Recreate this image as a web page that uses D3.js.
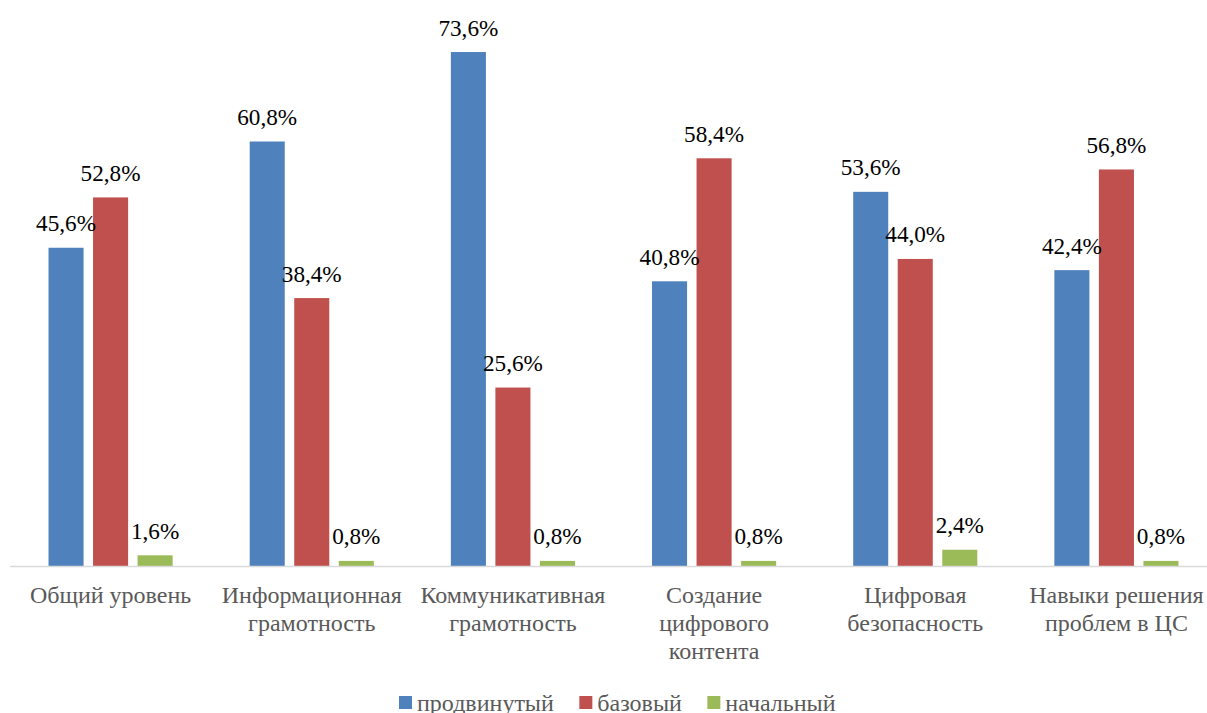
<!DOCTYPE html>
<html>
<head>
<meta charset="utf-8">
<script src="https://cdn.jsdelivr.net/npm/d3@7"></script>
<style>
  body { margin: 0; background: #fff; }
  svg { display: block; }
</style>
</head>
<body>
<div id="chart-container"></div>
<script>
const categories = ["Общий уровень", "Информационная грамотность", "Коммуникативная грамотность",
  "Создание цифрового контента", "Цифровая безопасность", "Навыки решения проблем в ЦС"];
const tickLabels = [
  ["Общий уровень"],
  ["Информационная", "грамотность"],
  ["Коммуникативная", "грамотность"],
  ["Создание", "цифрового", "контента"],
  ["Цифровая", "безопасность"],
  ["Навыки решения", "проблем в ЦС"]
];
const seriesNames = ["продвинутый", "базовый", "начальный"];
const advanced = [45.6, 60.8, 73.6, 40.8, 53.6, 42.4];
const basic = [52.8, 38.4, 25.6, 58.4, 44.0, 56.8];
const initial = [1.6, 0.8, 0.8, 0.8, 2.4, 0.8];
const colors = ["#4F81BD", "#C0504D", "#9BBB59"];

const width = 1207, height = 713;
const baseY = 566.5;
const serif = "'Liberation Serif', 'Times New Roman', serif";

const svg = d3.select("#chart-container").append("svg")
  .attr("width", width)
  .attr("height", height);

const x0 = d3.scaleBand().domain(categories).range([10, 1217]).paddingInner(0.383).paddingOuter(0.1915);
const x1 = d3.scaleBand().domain(seriesNames).range([0, x0.bandwidth()]).paddingInner(0.213);
const y = d3.scaleLinear().domain([0, 80]).range([baseY, 7.3]);

const seriesValues = [advanced, basic, initial];
const fmt = v => d3.format(".1f")(v).replace(".", ",") + "%";

// bars
const groups = svg.append("g").selectAll("g")
  .data(categories)
  .join("g")
  .attr("transform", d => `translate(${x0(d)},0)`);

groups.selectAll("rect")
  .data((d, i) => seriesNames.map((s, j) => ({ s, j, v: seriesValues[j][i] })))
  .join("rect")
  .attr("x", d => x1(d.s))
  .attr("y", d => y(d.v))
  .attr("width", x1.bandwidth())
  .attr("height", d => baseY - y(d.v))
  .attr("fill", d => colors[d.j]);

// value labels
groups.selectAll("text")
  .data((d, i) => seriesNames.map((s, j) => ({ s, j, v: seriesValues[j][i] })))
  .join("text")
  .attr("x", d => x1(d.s) + x1.bandwidth() / 2)
  .attr("y", d => y(d.v) - 16.5)
  .attr("text-anchor", "middle")
  .style("font-family", serif)
  .style("font-size", "23.2px")
  .attr("fill", "#000")
  .text(d => fmt(d.v));

// x axis
const xAxis = d3.axisBottom(x0).tickSize(0).tickFormat("");
const axisG = svg.append("g")
  .attr("transform", `translate(0,${baseY})`)
  .call(xAxis);
axisG.select(".domain").attr("d", `M10,0H${width}`).attr("stroke", "#D9D9D9").attr("stroke-width", 1.5);

axisG.selectAll(".tick").each(function (d, i) {
  const t = d3.select(this).append("text")
    .attr("text-anchor", "middle")
    .style("font-family", serif)
    .style("font-size", "24px")
    .attr("fill", "#595959");
  tickLabels[i].forEach((line, k) => {
    t.append("tspan").attr("x", 0).attr("y", 36.5 + k * 28).text(line);
  });
});

// legend
const legend = svg.append("g");
let lx = 399;
seriesNames.forEach((name, i) => {
  legend.append("rect")
    .attr("x", lx).attr("y", 696)
    .attr("width", 13).attr("height", 13)
    .attr("fill", colors[i]);
  const txt = legend.append("text")
    .attr("x", lx + 18).attr("y", 711)
    .style("font-family", serif)
    .style("font-size", "24px")
    .attr("fill", "#595959")
    .text(name);
  lx += 18 + txt.node().getComputedTextLength() + 25.5;
});
</script>
</body>
</html>
